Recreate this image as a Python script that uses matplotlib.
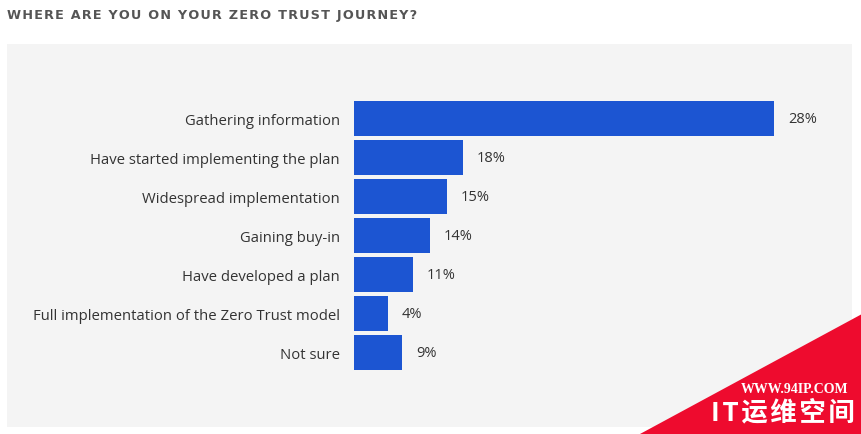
import matplotlib
matplotlib.use("Agg")
import matplotlib.pyplot as plt
from matplotlib.patches import Rectangle, Polygon

# ---- data ----
categories = [
    "Gathering information",
    "Have started implementing the plan",
    "Widespread implementation",
    "Gaining buy-in",
    "Have developed a plan",
    "Full implementation of the Zero Trust model",
    "Not sure",
]
share_labels = ["28%", "18%", "15%", "14%", "11%", "4%", "9%"]
# bar lengths as drawn in the source graphic (not proportional to labels)
bar_lengths = [28.0, 7.27, 6.2, 5.07, 3.93, 2.27, 3.2]

title = "WHERE ARE YOU ON YOUR ZERO TRUST JOURNEY?"

W, H = 862, 435
fig = plt.figure(figsize=(W / 100, H / 100), dpi=100)
fig.patch.set_facecolor("white")

def fx(px):
    return px / W

def fy(py):
    return 1 - py / H

# panel background
bg = fig.add_axes([0, 0, 1, 1], zorder=0)
bg.set_xlim(0, W)
bg.set_ylim(H, 0)
bg.axis("off")
bg.add_patch(Rectangle((7, 45), 845, 383, facecolor="#f4f4f4", edgecolor="none"))

# title with letter spacing (hair spaces)
spaced_title = "\u200a".join(title)
bg.text(7, 15, spaced_title, fontsize=9.2, fontweight="bold", color="#555555",
        family="DejaVu Sans", ha="left", va="center")

# axes
left_px, right_px = 354, 804
top_px, bot_px = 100, 373
ax = fig.add_axes([fx(left_px), fy(bot_px), fx(right_px) - fx(left_px), fy(top_px) - fy(bot_px)],
                  zorder=2)
ax.set_facecolor("none")
ypos = list(range(len(categories)))
ax.barh(ypos, bar_lengths, height=0.9, color="#1c55d2", edgecolor="none")
ax.set_xlim(0, 30)
ax.set_ylim(len(categories) - 0.5, -0.5)
for s in ax.spines.values():
    s.set_visible(False)
ax.set_xticks([])
ax.set_yticks(ypos)
ax.set_yticklabels(categories, fontsize=10.7, color="#333333", family="Open Sans")
ax.tick_params(axis="y", length=0, pad=10)
for y, v, lab in zip(ypos, bar_lengths, share_labels):
    ax.annotate(lab, (v, y), xytext=(14, 0), textcoords="offset pixels",
                ha="left", va="center", fontsize=10.5, color="#333333", family="Open Sans")

# watermark
wm = fig.add_axes([0, 0, 1, 1], zorder=5)
wm.set_xlim(0, W)
wm.set_ylim(H, 0)
wm.axis("off")
wm.patch.set_alpha(0)
wm.add_patch(Polygon([[640, 435], [862, 315], [862, 435]], closed=True,
                     facecolor="#ee0b2e", edgecolor="none"))
wm.text(848, 390, "WWW.94IP.COM", fontsize=10, fontweight="bold", color="white",
        family="Liberation Serif", ha="right", va="center")
wm.text(855, 413, "\u200a".join("IT运维空间"), fontsize=19, fontweight="bold",
        color="white", family=["Noto Sans CJK SC", "DejaVu Sans"], ha="right", va="center")

fig.savefig("out.png", dpi=100, facecolor="white")
